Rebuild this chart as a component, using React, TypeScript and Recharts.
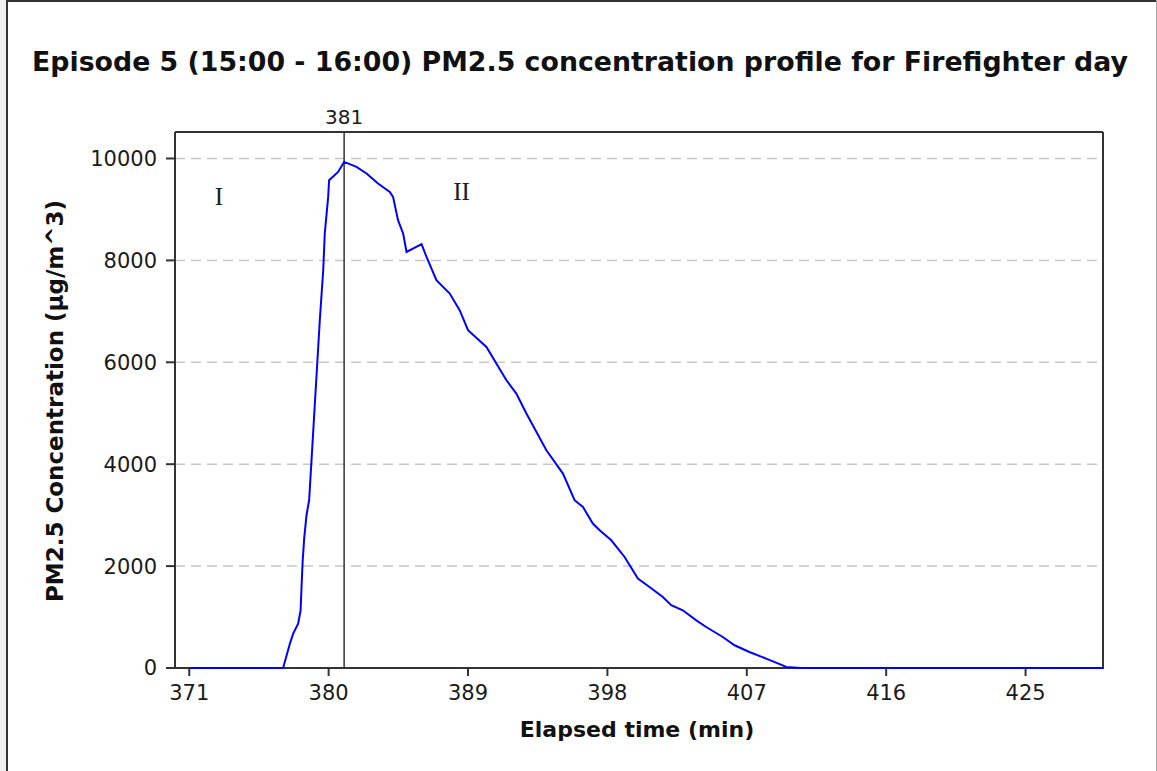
import React from 'react';
import { LineChart, Line, XAxis, YAxis, CartesianGrid, ReferenceLine, ReferenceDot } from 'recharts';

const timeMin = [371, 377.06, 377.5, 377.71, 378.03, 378.19, 378.25, 378.32, 378.42, 378.57, 378.74, 379.43, 379.65, 379.75, 379.97, 380.03, 380.61, 381, 381.8, 382.45, 383.19, 383.95, 384.16, 384.48, 384.81, 385.03, 386.0, 386.32, 386.96, 387.82, 388.46, 389.0, 390.19, 390.83, 391.48, 392.12, 392.77, 394.06, 395.13, 395.88, 396.42, 397.06, 397.5, 398.25, 399.11, 399.97, 400.72, 401.58, 402.12, 402.87, 403.74, 404.38, 405.45, 406.21, 407.17, 408.25, 409.32, 409.54, 410.51, 430];
const pm25 = [0, 0, 479, 675, 872, 1133, 1590, 2081, 2540, 2998, 3292, 6826, 7807, 8528, 9246, 9574, 9737, 9933, 9835, 9706, 9509, 9344, 9246, 8789, 8528, 8166, 8318, 8068, 7611, 7350, 7022, 6629, 6302, 5976, 5648, 5387, 4994, 4274, 3816, 3293, 3161, 2835, 2704, 2507, 2179, 1755, 1590, 1394, 1231, 1133, 936, 805, 609, 446, 314, 185, 53, 20, 0, 0];
const xTicks = [371, 380, 389, 398, 407, 416, 425];
const yTicks = [0, 2000, 4000, 6000, 8000, 10000];
const gridValues = [2000, 4000, 6000, 8000, 10000];
const peakTime = 381;
const xDomain = [370.08, 430];
const yDomain = [0, 10520];
const title = 'Episode 5 (15:00 - 16:00) PM2.5 concentration profile for Firefighter day';
const xTitle = 'Elapsed time (min)';
const yTitle = 'PM2.5 Concentration (µg/m^3)';
const regionLabels = ['I', 'II'];

const data = timeMin.map((t, i) => ({ t, v: pm25[i] }));

const FONT = 'DejaVu Sans, Verdana, sans-serif';
const tickStyle = { fontFamily: FONT, fontSize: 21, fill: '#1a1a1a' };

const W = 1157;
const H = 771;
const M = { top: 132, right: 54, bottom: 43, left: 75 };
const Y_AXIS_W = 100;
const X_AXIS_H = 60;
const plotLeft = M.left + Y_AXIS_W;
const plotRight = W - M.right;
const plotBottom = H - M.bottom - X_AXIS_H;

export default function App() {
  return (
    <div style={{ position: 'absolute', left: 0, top: 0, width: W, height: H, background: '#ffffff', overflow: 'hidden' }}>
      <svg width={W} height={H} style={{ position: 'absolute', left: 0, top: 0 }}>
        <line x1={plotLeft - 1} y1={plotBottom} x2={plotRight + 1} y2={plotBottom} stroke="#333333" strokeWidth={2} />
      </svg>
      <div style={{ position: 'absolute', left: 0, top: 0 }}>
        <LineChart width={W} height={H} data={data} margin={M}>
          <CartesianGrid horizontal vertical={false} horizontalValues={gridValues} stroke="#c8c8c8" strokeWidth={1.5} strokeDasharray="10 6" />
          <XAxis
            dataKey="t"
            type="number"
            domain={xDomain}
            ticks={xTicks}
            height={X_AXIS_H}
            tickSize={8}
            tickMargin={9}
            tick={tickStyle}
            axisLine={false}
            tickLine={{ stroke: '#333333', strokeWidth: 2 }}
          />
          <YAxis
            type="number"
            domain={yDomain}
            ticks={yTicks}
            width={Y_AXIS_W}
            tickSize={9}
            tickMargin={9}
            tick={tickStyle}
            axisLine={{ stroke: '#333333', strokeWidth: 2 }}
            tickLine={{ stroke: '#333333', strokeWidth: 2 }}
          />
          <ReferenceLine y={yDomain[1]} stroke="#333333" strokeWidth={2} ifOverflow="extendDomain" />
          <ReferenceLine x={xDomain[1]} stroke="#333333" strokeWidth={2} ifOverflow="extendDomain" />
          <ReferenceLine
            x={peakTime}
            stroke="#333333"
            strokeWidth={1.5}
            label={{ value: String(peakTime), position: 'top', offset: 8, fontFamily: FONT, fontSize: 20, fill: '#1a1a1a' }}
          />
          <ReferenceDot x={372.92} y={9254} r={0} stroke="none" fill="none"
            label={{ value: regionLabels[0], position: 'center', fontFamily: 'Liberation Serif, Times New Roman, serif', fontSize: 25, fill: '#1a1a1a' }} />
          <ReferenceDot x={388.58} y={9352} r={0} stroke="none" fill="none"
            label={{ value: regionLabels[1], position: 'center', fontFamily: 'Liberation Serif, Times New Roman, serif', fontSize: 25, fill: '#1a1a1a' }} />
          <Line type="linear" dataKey="v" stroke="#0000ff" strokeWidth={2} dot={false} activeDot={false} isAnimationActive={false} />
        </LineChart>
      </div>
      <svg width={W} height={H} style={{ position: 'absolute', left: 0, top: 0, pointerEvents: 'none' }}>
        <line x1={0} y1={1} x2={W} y2={1} stroke="#333333" strokeWidth={2} />
        <rect x={0} y={0} width={6} height={H} fill="#f0f0f0" />
        <line x1={7} y1={0} x2={7} y2={H} stroke="#333333" strokeWidth={2} />
        <line x1={W - 0.5} y1={0} x2={W - 0.5} y2={H} stroke="#a8a8a8" strokeWidth={1} />
        <text x={580} y={71} textAnchor="middle" fontFamily={FONT} fontWeight="bold" fontSize={27} fill="#111111" textLength={1096} lengthAdjust="spacingAndGlyphs">{title}</text>
        <text x={637} y={737} textAnchor="middle" fontFamily={FONT} fontWeight="bold" fontSize={22} fill="#111111">{xTitle}</text>
        <text x={63} y={401} textAnchor="middle" fontFamily={FONT} fontWeight="bold" fontSize={23} fill="#111111" transform="rotate(-90 63 401)">{yTitle}</text>
      </svg>
    </div>
  );
}
